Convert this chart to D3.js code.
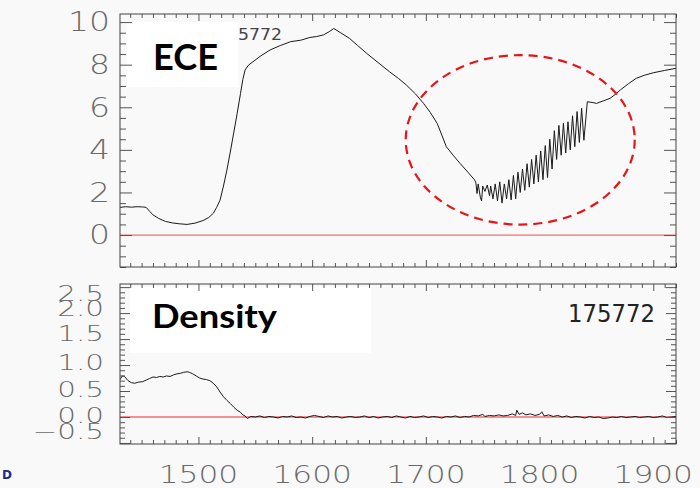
<!DOCTYPE html>
<html><head><meta charset="utf-8">
<script src="https://cdn.jsdelivr.net/npm/d3@7"></script>
<style>body{margin:0;background:#f9f9f9}svg{display:block}</style>
</head><body><svg id="c" width="700" height="488"></svg>
<script>
// ---------- data ----------
const xLabels = [1500, 1600, 1700, 1800, 1900];
const eceTicks = [0, 2, 4, 6, 8, 10];
const denTicks = [-0.5, 0, 0.5, 1.0, 1.5, 2.0, 2.5];
const denTickText = ["\u22120.5", "0.0", "0.5", "1.0", "1.5", "2.0", "2.5"];

const eceX = [1431,1436,1441,1446,1451,1454,1457,1460,1465,1471,1477,1483,1490,1497,1504,1509,1513,1516,1519,1522,1525,1528,1531,1534,1537,1539,1541,1544,1548,1555,1563,1572,1581,1590,1598,1604,1610,1615,1619,1625,1633,1640,1648,1658,1668,1676,1683,1691,1698,1704,1710,1714,1718,1724,1730,1737,1743,
 1744,1745,1746,1748,1749,1750,1752,1754,1756,1757,1759,1761,1763,1765,1767,1769,1771,1773,1775,1777,1779,1781,1783,1785,1787,1789,1791,1793,1795,1797,1799,1801,1803,1805,1807,1809,1811,1813,1815,1817,1819,1821,1823,1825,1827,1829,1831,1833,1835,1837,1839,
 1842,1847,1850,1856,1862,1867,1871,1878,1885,1892,1900,1910,1920];
const eceY = [1.30,1.33,1.31,1.33,1.32,1.30,1.12,0.95,0.78,0.64,0.57,0.53,0.50,0.56,0.68,0.82,1.02,1.30,1.64,2.30,3.05,3.90,4.79,5.70,6.65,7.30,7.75,7.98,8.14,8.42,8.69,8.90,9.08,9.15,9.28,9.32,9.40,9.55,9.70,9.50,9.23,8.90,8.53,8.10,7.67,7.35,7.04,6.62,6.18,5.75,5.24,4.70,4.15,3.75,3.37,2.95,2.58,
 2.45,1.95,2.40,1.75,1.60,2.30,2.05,2.35,1.85,2.30,1.70,2.40,1.60,2.50,1.50,2.40,1.70,2.60,1.65,2.80,1.70,2.95,2.00,3.10,2.10,3.35,2.25,3.55,2.40,3.75,2.50,3.95,2.60,4.20,2.70,4.50,3.10,4.90,3.55,5.15,3.75,5.25,3.85,5.32,4.00,5.60,4.15,5.80,4.35,5.95,4.45,
 6.26,6.22,6.18,6.30,6.42,6.62,6.81,7.10,7.36,7.50,7.62,7.73,7.83];

const denX = [1431,1433,1435,1438,1441,1444,1447,1451,1454,1457,1460,1463,1466,1469,1472,1475,1478,1481,1484,1487,1490,1492,1495,1498,1501,1504,1507,1510,1513,1516,1519,1522,1525,1528,1531,1534,1537,1539,1541,1543,
 1546,1550,1554,1558,1562,1566,1570,1574,1578,1582,1586,1590,1594,1598,1602,1606,1610,1614,1618,1622,1626,1630,1634,1638,1642,1646,1650,1654,1658,1662,1666,1670,1674,1678,1682,1686,1690,1694,1698,1702,1706,1710,1714,1718,1722,1726,1730,1734,1738,1742,1746,1750,1752,1756,1760,1764,1768,1772,1776,1779,1780,1782,1785,1788,1792,1796,1800,1802,1804,1808,1812,1816,1820,1824,1828,1832,1836,1840,1844,1848,1852,1856,1860,1864,1868,1872,1876,1880,1884,1888,1892,1896,1900,1904,1908,1912,1916,1920];
const denY = [0.72,0.79,0.78,0.70,0.66,0.65,0.67,0.68,0.71,0.74,0.77,0.76,0.78,0.77,0.79,0.78,0.81,0.83,0.84,0.86,0.87,0.86,0.83,0.79,0.75,0.73,0.72,0.70,0.65,0.58,0.48,0.39,0.32,0.26,0.19,0.13,0.09,0.04,0.02,-0.03,
 0.01,0.00,0.02,-0.01,0.01,0.00,-0.02,0.01,0.00,0.02,-0.01,0.00,-0.02,0.01,0.03,0.01,-0.01,0.02,0.00,0.01,-0.02,0.00,0.01,-0.01,0.00,0.02,-0.01,0.01,-0.02,0.00,0.01,-0.01,0.02,0.00,-0.02,0.01,-0.01,0.00,0.02,-0.01,0.01,0.00,-0.02,0.01,0.00,0.02,-0.01,0.01,0.00,0.03,0.02,0.05,0.01,0.03,0.02,0.04,0.02,0.03,0.06,0.03,0.13,0.05,0.08,0.04,0.06,0.03,0.05,0.10,0.02,0.04,0.01,0.03,0.00,0.02,-0.01,0.01,0.00,-0.02,0.01,-0.01,0.00,-0.03,-0.02,0.00,-0.01,0.01,-0.01,0.00,0.01,-0.01,0.00,0.01,-0.01,0.00,0.02,-0.01,0.00,0.01];

// annotation ellipse in data units: [centerX, centerY, radiusX, radiusY]
const ellipseData = [1783, 4.47, 100.7, 3.98];

// ---------- layout ----------
const L = 120, R = 676, T1 = 14, B1 = 267, T2 = 284, B2 = 444;
const svg = d3.select("#c");
svg.append("rect").attr("width",700).attr("height",488).attr("fill","#f9f9f9");

const x = d3.scaleLinear().domain([1431,1920]).range([L,R]);
const yE = d3.scaleLinear().domain([-1.5,10.38]).range([B1,T1]);
const yD = d3.scaleLinear().domain([-0.52,2.56]).range([B2,T2]);

const labelFont = "'DejaVu Sans', sans-serif";
const labelColor = "#6a6a6a";

function tickSet(g, axis){
  g.call(axis);
  g.select(".domain").remove();
  g.selectAll("text").remove();
  g.selectAll("line").attr("stroke","#555").attr("stroke-width",1);
}

function panel(y, top, bot, yMinor, yMajor, yMinLen, yMajLen){
  const xMinor = d3.range(1440,1921,10).filter(v=>v%100!==0);
  [[d3.axisTop, top],[d3.axisBottom, bot]].forEach(([ax,pos])=>{
    svg.append("g").attr("transform",`translate(0,${pos})`).call(g=>tickSet(g, ax(x).tickValues(xMinor).tickSize(-4)));
    svg.append("g").attr("transform",`translate(0,${pos})`).call(g=>tickSet(g, ax(x).tickValues(xLabels).tickSize(-7)));
  });
  [[d3.axisLeft, L],[d3.axisRight, R]].forEach(([ax,pos])=>{
    svg.append("g").attr("transform",`translate(${pos},0)`).call(g=>tickSet(g, ax(y).tickValues(yMinor).tickSize(-yMinLen)));
    svg.append("g").attr("transform",`translate(${pos},0)`).call(g=>tickSet(g, ax(y).tickValues(yMajor).tickSize(-yMajLen)));
  });
}

const defs = svg.append("defs");
defs.append("clipPath").attr("id","c1").append("rect").attr("x",L).attr("y",T1).attr("width",R-L).attr("height",B1-T1);
defs.append("clipPath").attr("id","c2").append("rect").attr("x",L).attr("y",T2).attr("width",R-L).attr("height",B2-T2);

// ---------- top panel ----------
svg.append("line").attr("x1",L).attr("x2",R).attr("y1",yE(0)).attr("y2",yE(0))
  .attr("stroke","#f07070").attr("stroke-width",1.2).attr("clip-path","url(#c1)");

// label 175772 (partly hidden by box)
svg.append("text").attr("x",216).attr("y",40)
  .attr("font-family",labelFont).attr("font-size",15).attr("textLength",66).attr("lengthAdjust","spacingAndGlyphs")
  .attr("fill","#444").text("175772");

const lineE = d3.line().x((d,i)=>x(eceX[i])).y(d=>yE(d));
svg.append("path").datum(eceY).attr("d",lineE).attr("fill","none")
  .attr("stroke","#1a1a1a").attr("stroke-width",1).attr("clip-path","url(#c1)");

svg.append("rect").attr("x",127).attr("y",22).attr("width",111).attr("height",65).attr("fill","#fff");
svg.append("text").attr("x",153).attr("y",70).attr("font-family","Lato, sans-serif").attr("font-weight",700)
  .attr("font-size",37).attr("textLength",65).attr("lengthAdjust","spacingAndGlyphs").attr("fill","#000").text("ECE");

panel(yE, T1, B1, d3.range(-1.5,10.01,0.5).filter(v=>v%2!==0), eceTicks, 6, 12);
svg.append("rect").attr("x",L).attr("y",T1).attr("width",R-L).attr("height",B1-T1).attr("fill","none").attr("stroke","#444");

const [ecx, ecy, erx, ery] = ellipseData;
svg.append("ellipse").attr("cx",x(ecx)).attr("cy",yE(ecy))
  .attr("rx",x(ecx+erx)-x(ecx)).attr("ry",yE(0)-yE(ery))
  .attr("fill","none").attr("stroke","#e8141a").attr("stroke-width",2.2).attr("stroke-dasharray","9 6");

svg.append("g").selectAll("text").data(eceTicks).join("text")
  .attr("transform",d=>`translate(110,${yE(d)}) scale(1.27,1)`)
  .attr("text-anchor","end").attr("dy","0.36em")
  .attr("font-family",labelFont).attr("font-weight",200).attr("font-size",26).attr("fill",labelColor)
  .text(d=>d);

// ---------- bottom panel ----------
svg.append("line").attr("x1",L).attr("x2",R).attr("y1",yD(0)).attr("y2",yD(0))
  .attr("stroke","#f59090").attr("stroke-width",2).attr("clip-path","url(#c2)");
const lineD = d3.line().x((d,i)=>x(denX[i])).y(d=>yD(d));
svg.append("path").datum(denY).attr("d",lineD).attr("fill","none")
  .attr("stroke","#1a1a1a").attr("stroke-width",1).attr("clip-path","url(#c2)");

svg.append("rect").attr("x",130).attr("y",287).attr("width",241).attr("height",66).attr("fill","#fff");
svg.append("text").attr("x",152).attr("y",328).attr("font-family","Lato, sans-serif").attr("font-weight",700)
  .attr("font-size",33).attr("textLength",125).attr("lengthAdjust","spacingAndGlyphs").attr("fill","#000").text("Density");

svg.append("text").attr("x",655).attr("y",322).attr("text-anchor","end")
  .attr("font-family",labelFont).attr("font-size",25).attr("textLength",87).attr("lengthAdjust","spacingAndGlyphs")
  .attr("fill","#222").text("175772");

panel(yD, T2, B2, d3.range(-0.5,2.501,0.1).filter(v=>Math.abs(v*2-Math.round(v*2))>1e-6), denTicks, 5, 10);
svg.append("rect").attr("x",L).attr("y",T2).attr("width",R-L).attr("height",B2-T2).attr("fill","none").attr("stroke","#444");

// squeezed label offsets (pixels) as in the original rendering
const denLabelShift = [-12, -2, -2, -3, -6, -5, 6];
svg.append("g").selectAll("text").data(denTicks).join("text")
  .attr("transform",(d,i)=>`translate(104,${yD(d)+denLabelShift[i]}) scale(1.4,1)`)
  .attr("text-anchor","end").attr("dy","0.36em")
  .attr("font-family",labelFont).attr("font-weight",200).attr("font-size",21).attr("fill",labelColor)
  .text((d,i)=>denTickText[i]);

svg.append("g").selectAll("text").data(xLabels).join("text")
  .attr("transform",d=>`translate(${x(d)},483) scale(1.3,1)`)
  .attr("text-anchor","middle")
  .attr("font-family",labelFont).attr("font-weight",200).attr("font-size",24).attr("fill",labelColor)
  .text(d=>d);

svg.append("text").attr("x",2).attr("y",479).attr("font-family","'DejaVu Sans', sans-serif").attr("font-weight",700)
  .attr("font-size",12).attr("fill","#1a2a8c").text("D");
</script></body></html>
